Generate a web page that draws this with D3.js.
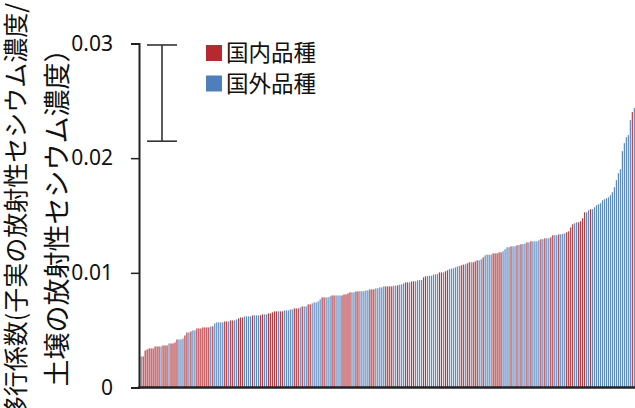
<!DOCTYPE html>
<html>
<head>
<meta charset="utf-8">
<script src="https://cdn.jsdelivr.net/npm/d3@7/dist/d3.min.js"></script>
<style>
  html, body { margin: 0; padding: 0; background: #fff; }
  svg { display: block; }
</style>
</head>
<body>
<svg id="chart" width="635" height="408"></svg>
<script>
// Transfer factor per variety, sorted ascending
const transferFactor = [
  0.00271,0.00271,0.00323,0.00332,0.00341,0.00341,0.00341,0.00358,0.00358,0.00358,
  0.00358,0.00367,0.00367,0.00367,0.00384,0.00384,0.00384,0.00393,0.00419,0.00419,
  0.00419,0.00428,0.00454,0.00480,0.00480,0.00489,0.00498,0.00498,0.00515,0.00515,
  0.00515,0.00524,0.00524,0.00524,0.00524,0.00533,0.00533,0.00559,0.00568,0.00568,
  0.00568,
  0.00568,0.00576,0.00576,0.00576,0.00585,0.00585,0.00585,0.00594,0.00603,0.00611,
  0.00611,0.00620,0.00620,0.00620,0.00620,0.00629,0.00629,0.00629,0.00629,0.00629,
  0.00638,0.00638,0.00638,0.00646,0.00646,0.00655,0.00664,0.00664,0.00664,0.00664,
  0.00664,0.00672,0.00672,0.00672,0.00681,0.00681,0.00690,0.00690,0.00690,0.00699,
  0.00707,0.00707,
  0.00707,0.00725,0.00725,0.00734,0.00742,0.00742,0.00751,0.00769,0.00786,0.00786,
  0.00786,0.00786,0.00795,0.00803,0.00803,0.00803,0.00803,0.00803,0.00803,0.00812,
  0.00812,0.00821,0.00830,0.00830,0.00830,0.00838,0.00838,0.00840,0.00840,0.00840,
  0.00847,0.00847,0.00856,0.00856,0.00856,0.00865,0.00865,0.00873,0.00873,0.00882,
  0.00882,0.00882,
  0.00882,0.00882,0.00888,0.00888,0.00891,0.00897,0.00900,0.00908,0.00917,0.00917,
  0.00917,0.00926,0.00926,0.00926,0.00934,0.00937,0.00937,0.00961,0.00969,0.00972,
  0.00975,0.00975,0.00984,0.00987,0.00990,0.01004,0.01004,0.01004,0.01013,0.01022,
  0.01031,0.01037,0.01039,0.01048,0.01054,0.01059,0.01066,0.01072,0.01074,0.01083,
  0.01092,0.01092,
  0.01092,0.01100,0.01109,0.01109,0.01118,0.01135,0.01153,0.01159,0.01159,0.01159,
  0.01170,0.01170,0.01170,0.01179,0.01179,0.01188,0.01205,0.01223,0.01223,0.01231,
  0.01231,0.01231,0.01240,0.01243,0.01249,0.01252,0.01255,0.01266,0.01266,0.01275,
  0.01275,0.01275,0.01275,0.01284,0.01293,0.01293,0.01301,0.01301,0.01301,0.01310,
  0.01328,0.01328,
  0.01328,0.01336,0.01336,0.01339,0.01345,0.01354,0.01362,0.01397,0.01424,0.01432,
  0.01441,0.01441,0.01450,0.01476,0.01528,0.01528,0.01546,0.01555,0.01555,0.01572,
  0.01590,0.01598,0.01607,0.01633,0.01642,0.01651,0.01659,0.01677,0.01703,0.01747,
  0.01808,0.01869,0.01904,0.02061,0.02131,0.02183,0.02201,0.02332,0.02402,0.02437
];

// Origin of each variety: D = 国内品種 (domestic), F = 国外品種 (foreign)
const origin = [
  "F","D","D","D","D","D","D","D","D","D", "F","D","D","D","F","D","D","D","D","F",
  "F","F","D","D","F","D","F","F","D","D", "D","D","D","D","D","F","D","F","F","F",
  "F",
  "F","D","D","F","D","D","F","F","D","D", "D","F","F","F","F","D","F","F","F","D",
  "D","F","F","D","D","D","D","D","F","D", "D","F","F","F","F","F","D","D","D","F",
  "D","F",
  "F","D","D","F","F","F","F","F","D","D", "F","F","F","D","D","F","F","F","D","D",
  "D","D","D","F","F","D","D","F","F","F", "F","F","D","D","D","F","F","F","F","F",
  "D","D",
  "D","D","F","F","D","F","F","F","D","D", "F","D","D","F","F","F","F","D","D","F",
  "F","F","F","F","F","D","D","F","D","D", "F","F","F","F","F","F","D","D","F","D",
  "D","F",
  "D","D","D","F","F","D","F","F","F","F", "D","D","D","D","D","F","F","F","F","D",
  "F","F","D","F","D","F","F","D","F","D", "F","F","F","F","D","F","D","F","F","D",
  "D","F",
  "F","D","F","F","F","D","D","D","D","F", "F","D","D","D","D","F","F","D","F","F",
  "F","F","F","F","F","F","F","F","F","F", "F","F","F","F","F","F","F","F","D","F"
];

const yTicks = [0, 0.01, 0.02, 0.03];
const yTickLabels = ["0", "0.01", "0.02", "0.03"];
const legendKeys = ["D", "F"];
const legendLabels = ["国内品種", "国外品種"];
const scaleBarRange = [0.02148, 0.02987];
const yTitleLines = ["移行係数(子実の放射性セシウム濃度/", "土壌の放射性セシウム濃度）"];

const legendColors = { D: "#b5292f", F: "#4f7fbb" };
const barColors = { D: "#b63a3f", F: "#5d89c1" };

const svg = d3.select("#chart");
const varieties = transferFactor.map((_, i) => i);

const x = d3.scaleBand()
  .domain(varieties)
  .range([140, 635.5])
  .paddingInner(0.4)
  .paddingOuter(0.3);

const y = d3.scaleLinear()
  .domain([0, 0.03])
  .range([387.5, 43.5]);

// Bars
svg.append("g")
  .selectAll("rect")
  .data(varieties)
  .join("rect")
  .attr("x", i => x(i))
  .attr("width", x.bandwidth())
  .attr("y", i => y(transferFactor[i]))
  .attr("height", i => y(0) - y(transferFactor[i]))
  .attr("fill", i => barColors[origin[i]]);

// Y axis
const yAxis = d3.axisLeft(y)
  .tickValues(yTicks)
  .tickFormat((d, i) => yTickLabels[i])
  .tickSize(8)
  .tickPadding(18);

const gy = svg.append("g")
  .attr("transform", "translate(139,0)")
  .call(yAxis);
gy.select(".domain").attr("stroke", "#222").attr("stroke-width", 2);
gy.selectAll(".tick line").attr("stroke", "#222").attr("stroke-width", 1.5);
gy.selectAll(".tick text")
  .attr("font-family", "'Noto Sans', 'DejaVu Sans', sans-serif")
  .attr("font-size", 21)
  .attr("fill", "#111");

// X axis baseline
svg.append("line")
  .attr("x1", 138).attr("x2", 635)
  .attr("y1", y(0)).attr("y2", y(0))
  .attr("stroke", "#222").attr("stroke-width", 2.5);

// Scale / error bar
const ebX = 162, capHalf = 15;
const eb = svg.append("g").attr("stroke", "#333").attr("stroke-width", 1.6);
eb.append("line").attr("x1", ebX).attr("x2", ebX)
  .attr("y1", y(scaleBarRange[1])).attr("y2", y(scaleBarRange[0]));
eb.append("line").attr("x1", ebX - capHalf).attr("x2", ebX + capHalf)
  .attr("y1", y(scaleBarRange[1])).attr("y2", y(scaleBarRange[1]));
eb.append("line").attr("x1", ebX - capHalf).attr("x2", ebX + capHalf)
  .attr("y1", y(scaleBarRange[0])).attr("y2", y(scaleBarRange[0]));

// Legend
const legend = svg.append("g").attr("transform", "translate(206,45)");
legendKeys.forEach((k, i) => {
  const g = legend.append("g").attr("transform", `translate(0,${i * 30.5})`);
  g.append("rect").attr("width", 16).attr("height", 16).attr("fill", legendColors[k]);
  g.append("text")
    .attr("x", 20).attr("y", 8).attr("dy", "0.36em")
    .attr("font-family", "'Noto Sans CJK JP', sans-serif")
    .attr("font-size", 22.5)
    .attr("fill", "#111")
    .text(legendLabels[i]);
});

// Y axis title (two lines, rotated)
const title = svg.append("g")
  .attr("font-family", "'Noto Sans CJK JP', sans-serif")
  .attr("fill", "#111");
title.append("text")
  .attr("transform", "translate(25,3) rotate(-90)")
  .attr("text-anchor", "end")
  .attr("font-size", 25)
  .text(yTitleLines[0]);
title.append("text")
  .attr("transform", "translate(67,211) rotate(-90)")
  .attr("text-anchor", "middle")
  .attr("font-size", 27)
  .text(yTitleLines[1]);
</script>
</body>
</html>
